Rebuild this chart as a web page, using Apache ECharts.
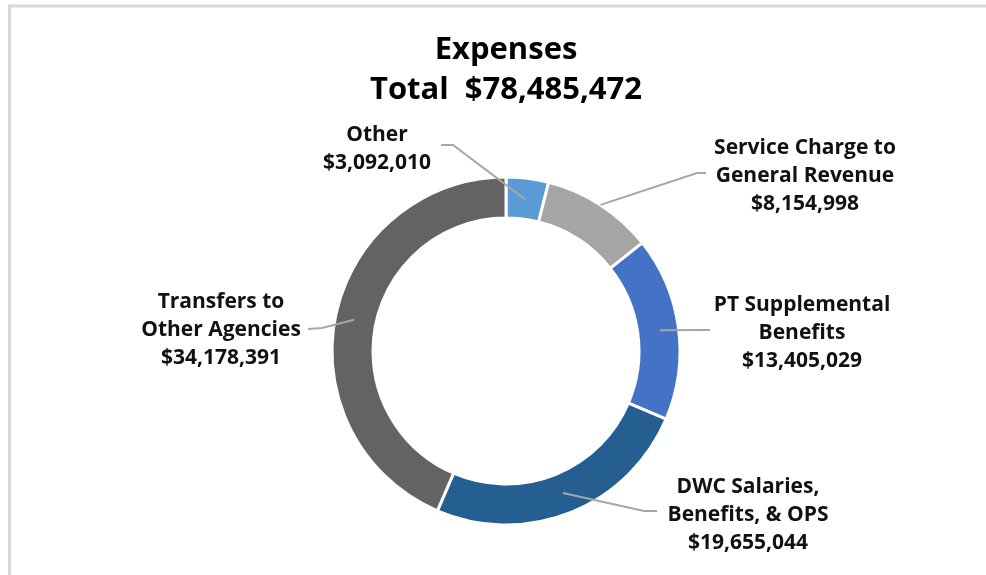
<!DOCTYPE html>
<html>
<head>
<meta charset="utf-8">
<script src="https://cdn.jsdelivr.net/npm/echarts@6/dist/echarts.min.js"></script>
<style>
  html, body { margin: 0; padding: 0; background: #fff; }
  #chart { width: 986px; height: 575px; }
</style>
</head>
<body>
<div id="chart"></div>
<script>
var categories = ['Other', 'Service Charge to\nGeneral Revenue', 'PT Supplemental\nBenefits', 'DWC Salaries,\nBenefits, & OPS', 'Transfers to\nOther Agencies'];
var amounts = [3092010, 8154998, 13405029, 19655044, 34178391];
var colors = ['#5b9bd5', '#a5a5a5', '#4472c4', '#255e91', '#636363'];

// label placement (Excel-style manual positions)
var labelPos = [[377, 149], [805, 176], [802, 333], [748, 515], [221, 330]];
var lineEnd = [[441, 145], [706, 173], [710, 330], [657, 511], [308, 329]];
var lineElbow = [[453, 145], [697, 173], [700, 330], [644, 511], [322, 328]];
var lineStartR = [153, 174, 155, 153, 155];

var cx = 506, cy = 351;
var total = amounts.reduce(function (a, b) { return a + b; }, 0);
var fontFamily = '"Open Sans", "Noto Sans", sans-serif';

function money(v) {
    return '$' + v.toLocaleString('en-US');
}

// mid angles, clockwise from 12 o'clock
var midAngles = [];
(function () {
    var acc = 0;
    for (var i = 0; i < amounts.length; i++) {
        midAngles.push((acc + amounts[i] / 2) / total * Math.PI * 2);
        acc += amounts[i];
    }
})();

var myChart = echarts.init(document.getElementById('chart'));
var option = {
    animation: false,
    graphic: [
        {
            type: 'rect',
            shape: { x: 9.5, y: 6, width: 1000, height: 600 },
            style: { fill: 'none', stroke: '#d9d9d9', lineWidth: 3 },
            silent: true
        },
        {
            type: 'text',
            x: 506,
            y: 30,
            style: {
                text: 'Expenses\nTotal  ' + money(total),
                font: 'bold 31px ' + fontFamily,
                lineHeight: 40,
                fill: '#000',
                textAlign: 'center',
                textVerticalAlign: 'top'
            }
        }
    ],
    series: [
        {
            type: 'pie',
            center: [cx, cy],
            radius: [133, 174],
            startAngle: 90,
            clockwise: true,
            avoidLabelOverlap: false,
            itemStyle: { borderColor: '#fff', borderWidth: 3 },
            label: {
                show: true,
                position: 'outside',
                formatter: function (p) { return p.name + '\n' + money(p.value); },
                fontFamily: fontFamily,
                fontWeight: 'bold',
                fontSize: 21,
                lineHeight: 28,
                color: '#111',
                align: 'center'
            },
            labelLine: { show: false },
            labelLayout: function (params) {
                var i = params.dataIndex;
                return {
                    x: labelPos[i][0],
                    y: labelPos[i][1],
                    align: 'center',
                    verticalAlign: 'middle'
                };
            },
            data: categories.map(function (name, i) {
                return { name: name, value: amounts[i], itemStyle: { color: colors[i] } };
            })
        },
        {
            // leader lines drawn above the ring, starting inside each slice
            type: 'custom',
            coordinateSystem: 'none',
            z: 5,
            silent: true,
            data: amounts,
            renderItem: function (params, api) {
                var i = params.dataIndex;
                var a = midAngles[i], r = lineStartR[i];
                return {
                    type: 'polyline',
                    shape: {
                        points: [
                            [cx + r * Math.sin(a), cy - r * Math.cos(a)],
                            lineElbow[i],
                            lineEnd[i]
                        ]
                    },
                    style: { fill: null, stroke: '#a6a6a6', lineWidth: 2 }
                };
            }
        }
    ]
};
myChart.setOption(option);
</script>
</body>
</html>
